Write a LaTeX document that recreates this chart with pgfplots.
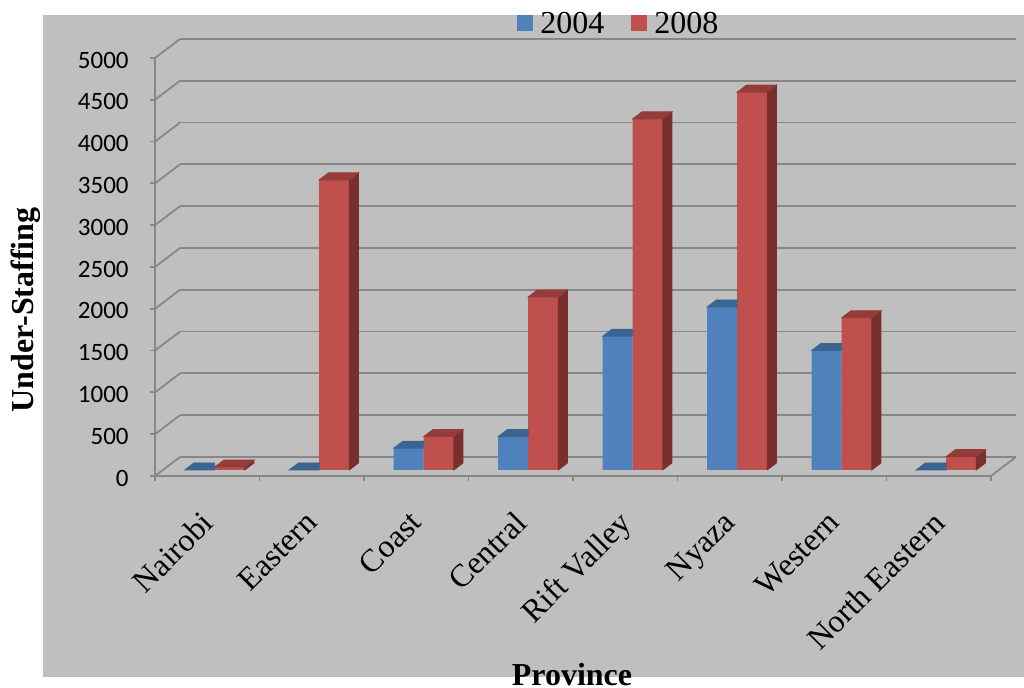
\documentclass[border=0pt]{standalone}
\usepackage{pgfplots}
\pgfplotsset{compat=1.18}
\usepackage{pgfplotstable}
\usepackage{fontspec}
\setmainfont{Liberation Serif}
\newfontfamily\numfont{Carlito}

\definecolor{panel}{HTML}{BFBFBF}
\definecolor{gridgray}{HTML}{878787}
\definecolor{blueFront}{HTML}{4F81BD}
\definecolor{blueTop}{HTML}{3A6491}
\definecolor{redFront}{HTML}{C0504D}
\definecolor{redTop}{HTML}{943C3A}
\definecolor{redSide}{HTML}{782F2E}

% a plot mark that draws nothing; the box faces are drawn by the scatter code
\pgfdeclareplotmark{nothing}{}

% under-staffing by province
\pgfplotstableread{
idx y2004 y2008
0   0     35
1   0     3470
2   260   400
3   400   2070
4   1600  4200
5   1950  4520
6   1430  1820
7   0     160
}\staffing

% top and side faces of the 3-D columns (pt, relative to the category centre)
% front column of the pair: only the part of the top face left of the 2008 column shows
\pgfplotsset{
  frontfaces/.style n args={3}{% #1 left edge, #2 right edge, #3 top colour
    forget plot, scatter, only marks, mark=nothing,
    scatter/@pre marker code/.code={%
      \begin{scope}
        \fill[#3] (#1pt,3pt) -- (#2pt,3pt) -- (#2pt,6.5pt) -- (#1pt+4.6pt,6.5pt) -- cycle;
    },
    scatter/@post marker code/.code={\end{scope}},
  },
  % back column of the pair: full top face and right side face
  backfaces/.style n args={4}{% #1 left edge, #2 right edge, #3 top colour, #4 side colour
    forget plot, scatter, only marks, mark=nothing,
    visualization depends on={rawy \as \rawy},
    scatter/@pre marker code/.code={%
      \pgfmathsetlengthmacro\barh{\rawy*0.0418}%
      \begin{scope}
        \fill[#4] (#2pt,3pt) -- (#2pt,3pt-\barh) -- (#2pt+4.6pt,6.5pt-\barh) -- (#2pt+4.6pt,6.5pt) -- cycle;
        \fill[#3] (#1pt,3pt) -- (#2pt,3pt) -- (#2pt+4.6pt,6.5pt) -- (#1pt+4.6pt,6.5pt) -- cycle;
    },
    scatter/@post marker code/.code={\end{scope}},
  },
}

\begin{document}
\begin{tikzpicture}
\useasboundingbox (0,0) rectangle (512pt,344pt);
\fill[panel] (21.5pt,5.5pt) rectangle (512pt,336.5pt);
\begin{axis}[
  at={(77.5pt,106pt)}, anchor=south west,
  scale only axis, width=418pt, height=209pt,
  xmin=-0.5, xmax=7.5, ymin=0, ymax=5000,
  clip=false,
  axis x line*=bottom, axis y line*=left,
  axis line style={-, draw=gridgray, line width=0.9pt},
  tick align=outside, major tick length=2.5pt,
  tick style={draw=gridgray, line width=0.9pt},
  ytick={0,500,...,5000},
  /pgf/number format/1000 sep={},
  /pgf/number format/assume math mode=true,
  yticklabel style={font=\numfont\fontsize{12.5}{15}\selectfont, anchor=east, inner sep=0pt, xshift=-10.5pt, yshift=-1pt},
  xtick={-0.5,0.5,...,7.5},
  xticklabels={},
  extra x ticks={0,1,...,7},
  extra x tick labels={Nairobi, Eastern, Coast, Central, Rift Valley, Nyaza, Western, North Eastern},
  extra x tick style={major tick length=0pt,
    xticklabel style={font=\fontsize{16}{19}\selectfont, xshift=-4pt, yshift=-16.5pt, rotate=45, anchor=north east, inner sep=0pt}},
  ymajorgrids,
  major grid style={draw=gridgray, line width=0.9pt, xshift=12.5pt, yshift=9.5pt},
  xlabel={Province},
  xlabel style={font=\bfseries\fontsize{16}{19}\selectfont, at={(axis description cs:0.4988,-0.5024)}, anchor=base},
  ylabel={Under-Staffing},
  ylabel style={font=\bfseries\fontsize{16}{19}\selectfont, at={(axis description cs:-0.1543,0.397)}, anchor=center},
  legend columns=2,
  legend image code/.code={\fill[#1] (0pt,-6.5pt) rectangle (8pt,1.5pt);},
  legend style={at={(axis description cs:0.433,1.0813)}, anchor=west,
    draw=none, fill=none, inner sep=0pt,
    font=\fontsize{16}{19}\selectfont,
    nodes={inner sep=0pt},
    /tikz/every odd column/.append style={column sep=3.5pt},
    /tikz/every even column/.append style={column sep=13.5pt}},
]
% receding edges of the floor and the back wall
\pgfplotsinvokeforeach{0,500,1000,1500,2000,2500,3000,3500,4000,4500,5000}{%
  \draw[gridgray, line width=0.9pt] (axis cs:-0.5,#1) -- ++(12.5pt,9.5pt);
}
\draw[gridgray, line width=0.9pt] (axis cs:7.5,0) -- ++(12.5pt,9.5pt);

\addplot[ybar, bar width=15pt, bar shift=-3.75pt, yshift=3pt, fill=blueFront, draw=none]
  table[x=idx, y=y2004] {\staffing};
\addlegendentry{2004}
\addplot[frontfaces={-11.25}{3.75}{blueTop}] table[x=idx, y=y2004] {\staffing};

\addplot[ybar, bar width=15pt, bar shift=11.25pt, yshift=3pt, fill=redFront, draw=none]
  table[x=idx, y=y2008] {\staffing};
\addlegendentry{2008}
\addplot[backfaces={3.75}{18.75}{redTop}{redSide}] table[x=idx, y=y2008] {\staffing};
\end{axis}
\end{tikzpicture}
\end{document}
